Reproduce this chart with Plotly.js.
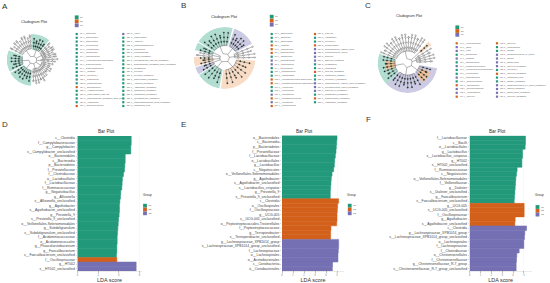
<!DOCTYPE html>
<html><head><meta charset="utf-8">
<script src="https://cdn.plot.ly/plotly-3.0.1.min.js"></script>
<style>html,body{margin:0;padding:0;background:#fff}#c{width:550px;height:283px}</style>
</head><body><div id="c"></div>
<script>
const GREEN='#22997A', ORANGE='#D2601A', PURPLE='#7570B3';
const groupNames=['G1','G2','G3'];
const groupColors=[GREEN,ORANGE,PURPLE];
const sectorColors=['rgba(27,158,119,0.34)','rgba(230,130,50,0.28)','rgba(117,112,179,0.36)'];

// ---------- bar panels ----------
const barD_labels=['c__Clostridia','f__Campylobacteraceae','g__Campylobacter','s__Campylobacter_unclassified','o__Bacteroidales','c__Bacteroidia','p__Bacteroidetes','f__Prevotellaceae','f__Clostridiaceae','o__Lactobacillales','f__Lactobacillaceae','f__Ruminococcaceae','g__Negativibacillus','g__Allisonella','s__Allisonella_unclassified','g__Agathobacter','s__Agathobacter_unclassified','g__Prevotella_9','s__Prevotella_9_unclassified','o__Veillonellales-Selenomonadales','g__Subdoligranulum','s__Subdoligranulum_unclassified','f__Acidaminococcaceae','o__Acidaminococcales','g__Phascolarctobacterium','g__Faecalibacterium','s__Faecalibacterium_unclassified','f__Oscillospiraceae','g__HT002','s__HT002_unclassified'];
const barD_values=[5.2,5.2,5.16,5.16,4.62,4.62,4.58,4.55,4.45,4.35,4.32,4.29,4.19,4.16,4.1,4.06,4.06,4.03,3.97,3.94,3.9,3.87,3.84,3.84,3.81,3.81,3.77,3.81,5.68,5.68];
const barD_groups=[0,0,0,0,0,0,0,0,0,0,0,0,0,0,0,0,0,0,0,0,0,0,0,0,0,0,0,1,2,2];

const barE_labels=['o__Bacteroidales','c__Bacteroidia','p__Bacteroidetes','f__Prevotellaceae','f__Lactobacillaceae','o__Lactobacillales','g__Lactobacillus','c__Negativicutes','o__Veillonellales-Selenomonadales','g__Agathobacter','s__Agathobacter_unclassified','s__Lactobacillus_crispatus','g__Prevotella_9','s__Prevotella_9_unclassified','c__Clostridia','o__Oscillospirales','f__Oscillospiraceae','g__UCG-005','s__UCG-005_unclassified','o__Peptostreptococcales-Tissierellales','f__Peptostreptococcaceae','g__Terrisporobacter','s__Terrisporobacter_unclassified','g__Lachnospiraceae_XPB1014_group','s__Lachnospiraceae_XPB1014_group_unclassified','f__Lachnospiraceae','o__Lachnospirales','o__Actinobacteriales','c__Coriobacteriia','o__Coriobacteriales'];
const barE_values=[5.0,4.97,4.94,4.91,4.85,4.79,4.76,4.7,4.55,4.48,4.45,4.42,4.39,4.39,5.15,5.06,5.03,5.0,5.0,4.97,4.45,4.42,4.42,5.15,5.15,5.12,5.09,5.09,4.6,4.58];
const barE_groups=[0,0,0,0,0,0,0,0,0,0,0,0,0,0,1,1,1,1,1,1,1,1,1,2,2,2,2,2,2,2];

const barF_labels=['f__Lactobacillaceae','c__Bacilli','o__Lactobacillales','g__Lactobacillus','s__Lactobacillus_crispatus','g__HT002','s__HT002_unclassified','f__Ruminococcaceae','c__Negativicutes','o__Veillonellales-Selenomonadales','f__Veillonellaceae','g__Dialister','s__Dialister_unclassified','g__Faecalibacterium','s__Faecalibacterium_unclassified','g__UCG-005','s__UCG-005_unclassified','f__Oscillospiraceae','g__Agathobacter','s__Agathobacter_unclassified','c__Clostridia','g__Lachnospiraceae_XPB1014_group','s__Lachnospiraceae_XPB1014_group_unclassified','o__Lachnospirales','f__Lachnospiraceae','f__Clostridiaceae','o__Christensenellales','f__Christensenellaceae','g__Christensenellaceae_R-7_group','s__Christensenellaceae_R-7_group_unclassified'];
const barF_values=[5.15,5.15,5.12,4.88,4.88,4.82,4.82,4.38,4.32,4.26,4.23,4.2,4.17,4.14,4.11,5.03,5.03,5.03,4.2,4.17,5.25,5.09,5.06,5.0,5.0,4.57,4.35,4.32,4.29,4.29];
const barF_groups=[0,0,0,0,0,0,0,0,0,0,0,0,0,0,0,1,1,1,1,1,2,2,2,2,2,2,2,2,2,2];

// ---------- cladogram A ----------
const cladA_sectors=[[-4,40,0,0.42],[184,240,0,0.42],[243,292,0,0.42]];
const cladA_spokes=[
 {t:[298,305,312,319,326,333,340,347,353],r0:0.46,r1:1.0,g:-1},
 {t:[4,12,20,28,36],r0:0.42,r1:1.0,g:0},
 {t:[45,51,57,63,69,75,81],r0:0.4,r1:0.95,g:-1},
 {t:[88,94],r0:0.32,r1:1.0,g:-1},
 {t:[102,109,116,123,130,137,144],r0:0.38,r1:0.82,g:-1},
 {t:[150,157,164,171,178],r0:0.36,r1:0.95,g:-1},
 {t:[190,199,208,217,226,235],r0:0.42,r1:1.0,g:0},
 {t:[248,257,266,275,284],r0:0.42,r1:1.0,g:0}];
const cladA_names=[['c__Bacteroidia','p__Bacteroidetes','o__Bacteroidales','f__Prevotellaceae','o__Lactobacillales','c__Negativicutes','f__Lactobacillaceae','o__Veillonellales-Selenomonadales','f__Ruminococcaceae','f__Campylobacteraceae','c__Clostridia','g__Prevotella_9','f__Clostridiaceae','g__Subdoligranulum','f__Oscillospiraceae','o__Acidaminococcales','g__Campylobacter_UCG-003','s__Subdoligranulum_unclassified_group_uncl','g__Agathobacter','f__Succinivibrionaceae'],
 ['g__HT002','g__Campylobacter','g__Allisonella','g__Phascolarctobacterium','g__Lactobacillus','g__Faecalibacterium','s__HT002_unclassified','s__Faecalibacterium_UCG-002_unclassified','s__Subdoligranulum_unclassified_group_unclassified','g__Megasphaera','g__Prevotella','s__Prevotella_unclassified','s__Campylobacter_unclassified','s__Allisonella_unclassified','s__Agathobacter_unclassified','s__Lactobacillus_unclassified','s__Megasphaera_unclassified','s__Faecalibacterium_unclassified','s__Phascolarctobacterium_group_unclassified','s__Lactobacillus_iners']];
const cladA_rowGroups=[[0,0,0,0,0,0,0,0,0,0,0,0,0,0,1,0,0,0,0,1],[2,0,0,0,0,0,0,0,0,0,0,0,0,0,0,0,0,0,0,0]];

// ---------- cladogram B ----------
const cladB_sectors=[[-58,15,0,0.42],[18,62,2,0.42],[95,187,1,0.4],[190,236,0,0.4],[238,252,2,0.4],[254,272,1,0.4],[285,300,0,0.42]];
const cladB_spokes=[
 {t:[-52,-42,-32,-22,-12,-2,8],r0:0.42,r1:1.0,g:0},
 {t:[24,32,40,48,56],r0:0.42,r1:1.0,g:2},
 {t:[68,75,82,89],r0:0.34,r1:1.02,g:-1},
 {t:[102,114,126,138,150,162,174],r0:0.4,r1:1.0,g:1},
 {t:[197,208,219,230],r0:0.4,r1:1.0,g:0},
 {t:[241,249],r0:0.4,r1:0.95,g:2},
 {t:[257,264,270],r0:0.4,r1:0.95,g:1},
 {t:[276,282],r0:0.42,r1:0.95,g:-1},
 {t:[288,295],r0:0.42,r1:1.0,g:0}];
const cladB_names=[['p__Bacteroidetes','c__Bacteroidia','o__Bacteroidales','c__Clostridia','o__Oscillospirales','f__Oscillospiraceae','c__Negativicutes','f__Lachnospiraceae','o__Lachnospirales','f__Prevotellaceae','f__Lactobacillaceae','o__Lactobacillales','o__Peptostreptococcales-Tissierellales','f__Peptostreptococcaceae-Tissierellaceae','o__Veillonellales','f__Veillonellaceae','c__Coriobacteriia','f__Peptostreptococcaceae','f__Atopobiaceae','o__Coriobacteriales'],
 ['g__UCG-005','g__Agathobacter','g__Prevotella_9','g__Terrisporobacter','g__Lachnospiraceae_XPB1014_group','g__Coriobacteriaceae_UCG-2','g__Olsenella','s__Olsenella_unclassified','g__Megasphaera','g__Lactobacillus','s__UCG-005_unclassified','s__Lactobacillus_crispatus','s__Prevotella_9_unclassified','s__Lachnospiraceae_XPB1014_group_unclassified','s__Coriobacteriaceae_UCG-2_unclassified','s__Olsenella_uli_unclassified','s__Megasphaera_unclassified','s__Terrisporobacter_unclassified','s__Agathobacter_unclassified']];
const cladB_rowGroups=[[0,0,0,1,1,1,0,2,2,0,0,0,1,1,0,0,2,1,2,1],[1,0,0,1,2,2,2,2,0,0,1,0,0,2,2,2,0,1,0]];

// ---------- cladogram C ----------
const cladC_sectors=[[225,288,0,0.45],[100,225,2,0.42],[44,53,1,0.55]];
const cladC_inner=[[252,276,1,0.42,0.78],[112,142,1,0.5,0.86]];
const cladC_spokes=[
 {t:[292,299,306,313,320,327,334,341,348,355,2,9,16,23,30,36],r0:0.42,r1:1.0,g:-1},
 {t:[48],r0:0.5,r1:1.05,g:1},
 {t:[58,65,72,79,86],r0:0.32,r1:0.95,g:-1},
 {t:[106,116,126,136],r0:0.42,r1:0.95,g:2},
 {t:[150,160,170,180,190,200,210,220],r0:0.42,r1:1.0,g:2},
 {t:[232,241,250,259,268,277,285],r0:0.45,r1:1.0,g:0}];
const cladC_names=[['c__Verrucomicrobiae','o__Bacilli','o__Lacto','f__Negativicutes','c__Clostridia','f__Oscillospiraceae','f__Peptostreptococcaceae','o__Veillonellales-Selenomonadales','f__Veillonellaceae','f__Lachnospiraceae','f__Ruminococcaceae','o__Oscillospirales','f__Selenomonadaceae','o__Lachnospirales','f__UCG-010'],
 ['g__UCG-005','g__Lachnospirales','g__Dialister','g__Christensenellaceae_R-7_group','g__Sarcina','g__Blautia_group','g__UCG-010_unclassified','g__Prevotella_9','s__UCG-005_unclassified','s__Lactobacillus_iners','s__Dialister_unclassified','s__Christensenellaceae_R-7_group_unclassified','s__Sarcina_unclassified','s__Blautia_group_unclassified','s__UCG-010_unclassified']];
const cladC_rowGroups=[[1,2,2,0,2,0,2,0,0,2,0,1,2,2,1],[1,0,0,2,2,2,2,0,1,0,0,2,2,2,2]];

// ---------- layout helpers ----------
const W=550,H=283;
const panels=[
 {key:'',  labels:barD_labels,values:barD_values,groups:barD_groups,x0:77.5,w:64,unit:10.33,ticks:[0,2,4,6],top:136,bot:271,title:106.7,lg:[145,205.7]},
 {key:'2',labels:barE_labels,values:barE_values,groups:barE_groups,x0:282,w:62,unit:11,ticks:[0,1,2,3,4,5],top:135.5,bot:271,title:304,lg:[349.7,205.7]},
 {key:'3',labels:barF_labels,values:barF_values,groups:barF_groups,x0:469.7,w:62,unit:10.83,ticks:[0,1,2,3,4,5],top:135.7,bot:271,title:497,lg:[537.5,207]}];
const clads=[
 {id:'polar', cx:32.7,cy:60,R:26,sectors:cladA_sectors,spokes:cladA_spokes,inner:[],names:cladA_names,rows:cladA_rowGroups,cols:[[76.7,80],[123.3,126.7]],y0:34,dy:3.79,sw:[76.7,[17.3,21.3,25.3]],prefix:'a',title:[34.3,22]},
 {id:'polar2',cx:224.7,cy:58,R:31,sectors:cladB_sectors,spokes:cladB_spokes,inner:[],names:cladB_names,rows:cladB_rowGroups,cols:[[271.7,274.7],[315,317.7]],y0:34,dy:3.79,sw:[271.7,[16.7,20.7,24.7]],prefix:'b',title:[224,16.7]},
 {id:'polar3',cx:407.7,cy:63,R:30,sectors:cladC_sectors,spokes:cladC_spokes,inner:cladC_inner,names:cladC_names,rows:cladC_rowGroups,cols:[[456.7,460],[497,500]],y0:43.3,dy:3.81,sw:[457.3,[27.3,31,34.8]],prefix:'c',title:[409,15.7]}];

const traces=[], annotations=[];
const layout={width:W,height:H,margin:{l:0,r:0,t:0,b:0},paper_bgcolor:'#fff',plot_bgcolor:'rgba(0,0,0,0)',showlegend:false,font:{family:'Liberation Sans, Arial, sans-serif',color:'#333'},
 xaxis9:{domain:[0,1],range:[0,W],visible:false,fixedrange:true,anchor:'y9'},
 yaxis9:{domain:[0,1],range:[H,0],visible:false,fixedrange:true,anchor:'x9'}};

function txt(x,y,text,size,extra){annotations.push(Object.assign({xref:'paper',yref:'paper',x:x/W,y:1-y/H,text,showarrow:false,font:{size,color:'#333'},xanchor:'center',yanchor:'middle'},extra||{}));}

panels.forEach(p=>{
 const rows=p.labels.map((_,i)=>i);
 [0,1,2].forEach(g=>{
  const idx=rows.filter(i=>p.groups[i]===g);
  traces.push({type:'bar',orientation:'h',x:idx.map(i=>p.values[i]),y:idx.map(i=>p.labels[i]),xaxis:'x'+p.key,yaxis:'y'+p.key,width:1,marker:{color:groupColors[g],line:{width:0.5,color:groupColors[g]}},hoverinfo:'x+y'});
 });
 layout['xaxis'+p.key]={domain:[p.x0/W,(p.x0+p.w)/W],range:[0,p.w/p.unit],tickvals:p.ticks,ticktext:p.ticks.map(String),ticks:'outside',ticklen:1.5,tickwidth:0.4,tickcolor:'#666',tickfont:{size:2.6,color:'#777'},showgrid:true,gridcolor:'#efefef',gridwidth:0.4,zeroline:false,showline:true,linecolor:'#ccc',linewidth:0.4,fixedrange:true,anchor:'y'+p.key,
  title:{text:'LDA score',font:{size:5.4,color:'#333'},standoff:1}};
 layout['yaxis'+p.key]={domain:[1-p.bot/H,1-p.top/H],type:'category',categoryorder:'array',categoryarray:p.labels,range:[p.labels.length-0.5,-0.5],ticks:'outside',ticklen:1,tickwidth:0.3,tickcolor:'#888',tickfont:{size:3.4,color:'#444'},showline:false,showgrid:false,zeroline:false,fixedrange:true,anchor:'x'+p.key,tickmode:'array',tickvals:p.labels,ticktext:p.labels};
 txt(p.title,131,'Bar Plot',4.6);
 txt(p.lg[0]+2,195,'Group',3.2);
 traces.push({type:'scatter',mode:'markers+text',x:[0,1,2].map(()=>p.lg[0]),y:[0,1,2].map(i=>p.lg[1]+i*3.8),text:groupNames,textposition:'middle right',textfont:{size:2.2,color:'#555'},marker:{symbol:'square',size:3.8,color:groupColors,line:{width:0}},xaxis:'x9',yaxis:'y9',hoverinfo:'skip'});
});

clads.forEach(c=>{
 layout[c.id]={domain:{x:[(c.cx-c.R)/W,(c.cx+c.R)/W],y:[1-(c.cy+c.R)/H,1-(c.cy-c.R)/H]},bgcolor:'rgba(0,0,0,0)',
  radialaxis:{range:[0,1.05],visible:false},angularaxis:{direction:'clockwise',rotation:90,visible:false}};
 c.sectors.forEach(s=>{
  traces.push({type:'barpolar',subplot:c.id,theta:[(s[0]+s[1])/2],width:[s[1]-s[0]],r:[1.05-s[3]],base:[s[3]],marker:{color:sectorColors[s[2]],line:{width:0}},hoverinfo:'skip'});
 });
 c.inner.forEach(s=>{
  traces.push({type:'barpolar',subplot:c.id,theta:[(s[0]+s[1])/2],width:[s[1]-s[0]],r:[s[4]-s[3]],base:[s[3]],marker:{color:'rgba(245,190,140,0.85)',line:{width:0}},hoverinfo:'skip'});
 });
 const lt=[],lr=[],nt=[],nr=[],nc=[],ringT=[],ringR=[];
 c.spokes.forEach(s=>{
  const inSector=s.g>=0;
  s.t.forEach((a,i)=>{
   const outer=(inSector?0.86:1)*(i%3===1?s.r1-0.1:s.r1);
   lt.push(a,a,null); lr.push(s.r0,outer,null);
   const stops=inSector?[s.r0+0.14,s.r0+0.28,outer]:[s.r0+0.12,s.r0+0.3,s.r0+0.48,outer];
   stops.filter(v=>v<=outer).forEach(v=>{nt.push(a);nr.push(v);nc.push(inSector?'#1d3b32':'#fff');});
  });
  s.t.forEach(a=>{lt.push(a);lr.push(s.r0);}); lt.push(null);lr.push(null);
  const mid=s.t[Math.floor(s.t.length/2)];
  lt.push(mid,mid,null); lr.push(s.r0,0.16,null);
  ringT.push(mid);ringR.push(0.16);
 });
 traces.push({type:'scatterpolar',subplot:c.id,mode:'lines',theta:lt,r:lr,connectgaps:false,line:{color:'#444',width:0.4},hoverinfo:'skip'});
 traces.push({type:'scatterpolar',subplot:c.id,mode:'lines',theta:ringT,r:ringR,line:{color:'#444',width:0.4},hoverinfo:'skip'});
 traces.push({type:'scatterpolar',subplot:c.id,mode:'markers',theta:nt,r:nr,marker:{size:1.4,color:nc,line:{color:'#222',width:0.3}},hoverinfo:'skip'});
 txt(c.title[0],c.title[1],'Cladogram Plot',3.8);
 traces.push({type:'scatter',mode:'markers+text',x:c.sw[1].map(()=>c.sw[0]),y:c.sw[1],text:groupNames,textposition:'middle right',textfont:{size:2,color:'#555'},marker:{symbol:'square',size:3.8,color:groupColors,line:{width:0}},xaxis:'x9',yaxis:'y9',hoverinfo:'skip'});
 c.names.forEach((col,k)=>{
  traces.push({type:'scatter',mode:'markers',x:col.map(()=>c.cols[k][0]),y:col.map((_,i)=>c.y0+i*c.dy),marker:{symbol:'square',size:2.2,color:c.rows[k].map(g=>groupColors[g]),line:{width:0}},xaxis:'x9',yaxis:'y9',hoverinfo:'skip'});
  traces.push({type:'scatter',mode:'text',x:col.map(()=>c.cols[k][1]),y:col.map((_,i)=>c.y0+i*c.dy),text:col.map((n,i)=>c.prefix+(i+(k?c.names[0].length:0))+': '+n),textposition:'middle right',textfont:{size:1.9,color:'#555'},xaxis:'x9',yaxis:'y9',hoverinfo:'skip'});
 });
});

[['A',5,6],['B',183,5],['C',368,5],['D',5,124],['E',183,124],['F',368,119]].forEach(l=>txt(l[1],l[2],l[0],8));

layout.annotations=annotations;
Plotly.newPlot('c',traces,layout,{staticPlot:true,displayModeBar:false});
</script></body></html>
